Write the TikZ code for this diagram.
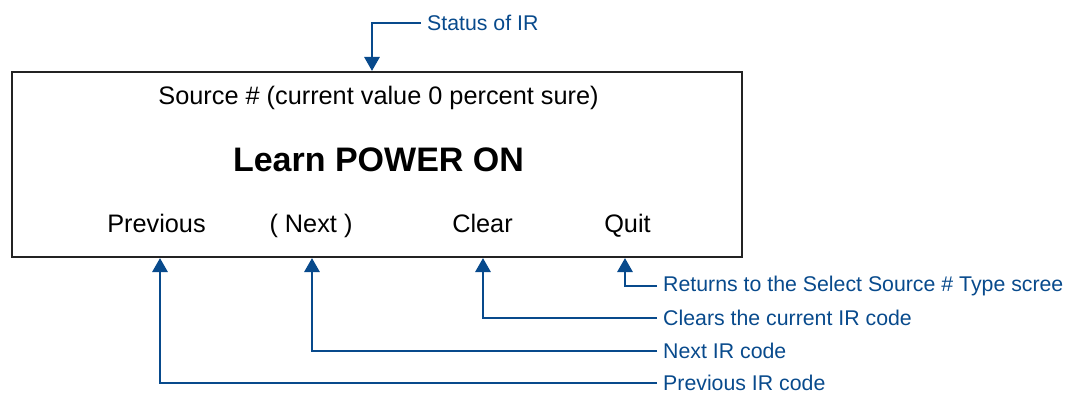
\documentclass[tikz,border=0pt]{standalone}
\usepackage{fontspec}
\setmainfont{Liberation Sans}
\usetikzlibrary{arrows.meta,positioning}
\definecolor{irblue}{RGB}{8,74,140}
\definecolor{frame}{RGB}{35,35,35}
\tikzset{
  screen/.style={draw=frame, line width=2pt, fill=white, minimum width=730pt, minimum height=185pt, inner sep=0pt},
  btn/.style={font=\fontsize{25.3}{30}\selectfont, text=black, inner sep=0pt, anchor=base},
  note/.style={font=\fontsize{21.3}{25}\selectfont, text=irblue, anchor=west, inner xsep=6pt, inner ysep=0pt},
  lead/.style={draw=irblue, line width=2.8pt, -{Triangle[width=15pt,length=14pt]}}
}
\begin{document}
\begin{tikzpicture}[x=1pt,y=-1pt]
  \useasboundingbox (0,0) rectangle (1078,393);
  % LCD screen outline
  \node[screen] (box) at (377,164.5) {};
  \node[btn] (src) at (378.5,105) {Source \# (current value 0 percent sure)};
  \node[btn, font=\bfseries\fontsize{34}{40}\selectfont] (learn) at (378.5,171) {Learn POWER ON};
  \node[btn] (prev)  at (156.5,232.5) {Previous};
  \node[btn] (next)  at (311,232.5) {( Next )};
  \node[btn] (clear) at (482.5,232.5) {Clear};
  \node[btn] (quit)  at (627.5,232.5) {Quit};
  % callout texts
  \node[note] (status) at (421,23) {Status of IR};
  \node[note] (ret) at (657,286) {Returns to the Select Source \# Type scree};
  \node[note] (clr) at (657,318) {Clears the current IR code};
  \node[note] (nxt) at (657,351) {Next IR code};
  \node[note] (prv) at (657,383) {Previous IR code};
  % callout leaders
  \coordinate (topin) at ([xshift=-5pt]box.north);
  \draw[lead] (status.west) -| (topin);
  \draw[lead] (ret.west) -| ([xshift=-2.5pt]quit |- box.south);
  \draw[lead] (clr.west) -| ([xshift=0.5pt]clear |- box.south);
  \draw[lead] (nxt.west) -| ([xshift=1pt]next |- box.south);
  \draw[lead] (prv.west) -| ([xshift=3.5pt]prev |- box.south);
\end{tikzpicture}
\end{document}
